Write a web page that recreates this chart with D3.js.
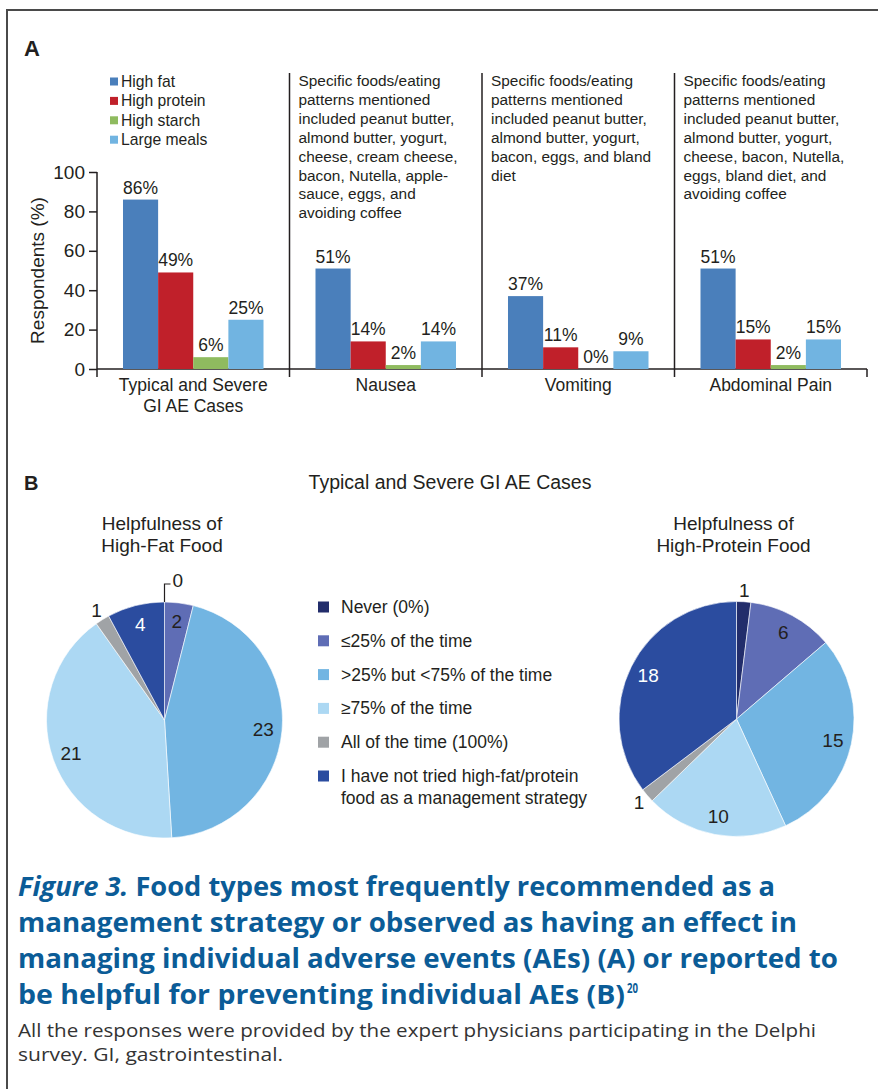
<!DOCTYPE html>
<html>
<head>
<meta charset="utf-8">
<script src="https://cdn.jsdelivr.net/npm/d3@7"></script>
<style>
  body { margin: 0; background: #fff; }
  text { font-family: "Liberation Sans", Arial, sans-serif; fill: #231f20; }
</style>
</head>
<body>
<svg id="fig" width="878" height="1089"></svg>
<script>
// ---- panel A data ----
const categories = ["Typical and Severe GI AE Cases", "Nausea", "Vomiting", "Abdominal Pain"];
const categoryLines = [["Typical and Severe", "GI AE Cases"], ["Nausea"], ["Vomiting"], ["Abdominal Pain"]];
const seriesNames = ["High fat", "High protein", "High starch", "Large meals"];
const seriesColors = ["#4a7fbb", "#c0202a", "#8fbb5f", "#71b4e1"];
const highFat = [86, 51, 37, 51];
const highProtein = [49, 14, 11, 15];
const highStarch = [6, 2, 0, 2];
const largeMeals = [25, 14, 9, 15];
const yTicks = [0, 20, 40, 60, 80, 100];
const notes = [
    [],
    ["Specific foods/eating", "patterns mentioned", "included peanut butter,", "almond butter, yogurt,",
     "cheese, cream cheese,", "bacon, Nutella, apple-", "sauce, eggs, and", "avoiding coffee"],
    ["Specific foods/eating", "patterns mentioned", "included peanut butter,", "almond butter, yogurt,",
     "bacon, eggs, and bland", "diet"],
    ["Specific foods/eating", "patterns mentioned", "included peanut butter,", "almond butter, yogurt,",
     "cheese, bacon, Nutella,", "eggs, bland diet, and", "avoiding coffee"]
];

// ---- panel B data ----
const helpCategories = ["Never (0%)", "\u226425% of the time", ">25% but <75% of the time",
    "\u226575% of the time", "All of the time (100%)",
    "I have not tried high-fat/protein|food as a management strategy"];
const helpColors = ["#222d6b", "#5f6db5", "#72b5e2", "#acd8f3", "#a0a3a6", "#2b4c9f"];
const highFatHelp = [0, 2, 23, 21, 1, 4];
const highProteinHelp = [1, 6, 15, 10, 1, 18];

// ---- caption ----
const captionLines = ["Food types most frequently recommended as a",
    "management strategy or observed as having an effect in",
    "managing individual adverse events (AEs) (A) or reported to",
    "be helpful for preventing individual AEs (B)"];
const noteLines = ["All the responses were provided by the expert physicians participating in the Delphi",
    "survey. GI, gastrointestinal."];

const svg = d3.select("#fig");

// frame
svg.append("path")
    .attr("d", "M7,1089 L7,10 L878,10")
    .attr("fill", "none")
    .attr("stroke", "#4a4a4a")
    .attr("stroke-width", 2);

// ================= PANEL A =================
svg.append("text").attr("x", 24).attr("y", 56)
    .style("font-size", "22px").style("font-weight", "bold").text("A");

let table = categories.map(function (c, i) {
    return {cat: c, values: [highFat[i], highProtein[i], highStarch[i], largeMeals[i]]};
});

let x0 = d3.scaleBand().domain(categories).range([97, 867]);
let x1 = d3.scaleBand().domain(seriesNames).range([0, x0.bandwidth()]).paddingOuter(0.74);
let y = d3.scaleLinear().domain([0, 100]).range([369, 172]);

// y axis
let yAxis = svg.append("g")
    .attr("transform", "translate(97,0)")
    .call(d3.axisLeft(y).tickValues(yTicks).tickSize(8).tickPadding(4).tickSizeOuter(0));
yAxis.select(".domain").remove();
yAxis.selectAll("line").attr("stroke", "#231f20").attr("stroke-width", 1.5);
yAxis.selectAll("text").style("font-size", "19px").style("font-family", "Liberation Sans, Arial, sans-serif").attr("fill", "#231f20");
svg.append("line").attr("x1", 97).attr("x2", 97).attr("y1", y(100)).attr("y2", 377)
    .attr("stroke", "#231f20").attr("stroke-width", 1.5);

svg.append("text")
    .attr("transform", "translate(44," + ((y(0) + y(100)) / 2) + ") rotate(-90)")
    .attr("text-anchor", "middle")
    .style("font-size", "19px")
    .text("Respondents (%)");

// x axis baseline and group boundaries
svg.append("line").attr("x1", 97).attr("x2", 867).attr("y1", y(0)).attr("y2", y(0))
    .attr("stroke", "#231f20").attr("stroke-width", 1.5);
let bounds = categories.map(function (c) { return x0(c) + x0.bandwidth(); });
svg.selectAll("line.divider")
    .data(bounds)
    .enter()
    .append("line")
    .attr("class", "divider")
    .attr("x1", function (d) { return d; })
    .attr("x2", function (d) { return d; })
    .attr("y1", function (d, i) { return i < 3 ? 73 : y(0); })
    .attr("y2", 377)
    .attr("stroke", "#231f20")
    .attr("stroke-width", 1.5);

// bars
let groups = svg.selectAll("g.group")
    .data(table)
    .enter()
    .append("g")
    .attr("class", "group")
    .attr("transform", function (d) { return "translate(" + x0(d.cat) + ",0)"; });

groups.selectAll("rect")
    .data(function (d) { return d.values.map(function (v, k) { return {name: seriesNames[k], v: v, k: k}; }); })
    .enter()
    .append("rect")
    .attr("x", function (d) { return x1(d.name); })
    .attr("width", x1.bandwidth())
    .attr("y", function (d) { return y(d.v); })
    .attr("height", function (d) { return y(0) - y(d.v); })
    .attr("fill", function (d) { return seriesColors[d.k]; });

groups.selectAll("text.val")
    .data(function (d) { return d.values.map(function (v, k) { return {name: seriesNames[k], v: v}; }); })
    .enter()
    .append("text")
    .attr("class", "val")
    .attr("x", function (d) { return x1(d.name) + x1.bandwidth() / 2; })
    .attr("y", function (d) { return y(d.v) - 6; })
    .attr("text-anchor", "middle")
    .style("font-size", "17.5px")
    .text(function (d) { return d.v + "%"; });

// category labels + notes
groups.each(function (d, i) {
    let g = d3.select(this);
    categoryLines[i].forEach(function (line, j) {
        g.append("text")
            .attr("x", x0.bandwidth() / 2)
            .attr("y", 391 + j * 20.5)
            .attr("text-anchor", "middle")
            .style("font-size", "17.5px")
            .text(line);
    });
    notes[i].forEach(function (line, j) {
        g.append("text")
            .attr("x", 9)
            .attr("y", 86 + j * 18.9)
            .style("font-size", "15.4px")
            .text(line);
    });
});

// legend A
let legA = svg.append("g").attr("transform", "translate(110,77.5)");
seriesNames.forEach(function (name, i) {
    legA.append("rect").attr("x", 0).attr("y", i * 19.4).attr("width", 8).attr("height", 8)
        .attr("fill", seriesColors[i]);
    legA.append("text").attr("x", 11).attr("y", i * 19.4 + 9.5)
        .style("font-size", "15.7px").text(name);
});

// ================= PANEL B =================
svg.append("text").attr("x", 24).attr("y", 490)
    .style("font-size", "20px").style("font-weight", "bold").text("B");
svg.append("text").attr("x", 450).attr("y", 489).attr("text-anchor", "middle")
    .style("font-size", "19.5px").text("Typical and Severe GI AE Cases");

function drawPie(cx, cy, r, values, titleLines, titleX) {
    titleLines.forEach(function (t, j) {
        svg.append("text").attr("x", titleX).attr("y", 530 + j * 22)
            .attr("text-anchor", "middle").style("font-size", "19px").text(t);
    });

    let pie = d3.pie().sort(null).value(function (d) { return d; });
    let arcs = pie(values);
    let arc = d3.arc().innerRadius(0).outerRadius(r);
    let g = svg.append("g").attr("transform", "translate(" + cx + "," + cy + ")");

    g.selectAll("path")
        .data(arcs)
        .enter()
        .append("path")
        .attr("d", arc)
        .attr("fill", function (d, i) { return helpColors[i]; })
        .attr("stroke", "#fff")
        .attr("stroke-width", 0.6);

    arcs.forEach(function (a, i) {
        let mid = (a.startAngle + a.endAngle) / 2;
        if (a.data === 0) {
            // leader for the empty slice
            g.append("path")
                .attr("d", "M0," + (-r) + " V" + (-r - 18) + " H6")
                .attr("fill", "none").attr("stroke", "#231f20").attr("stroke-width", 1.2);
            g.append("text").attr("x", 8).attr("y", -r - 15)
                .style("font-size", "19px").text(a.data);
            return;
        }
        let rr = a.data <= 1 ? r + 11 : r * 0.84;
        let lx = Math.sin(mid) * rr;
        let ly = -Math.cos(mid) * rr;
        g.append("text")
            .attr("x", lx).attr("y", ly)
            .attr("dy", "0.35em")
            .attr("text-anchor", "middle")
            .style("font-size", "19px")
            .style("fill", (i === 5) ? "#fff" : "#231f20")
            .text(a.data);
    });
}

drawPie(164.5, 720, 118, highFatHelp, ["Helpfulness of", "High-Fat Food"], 162);
drawPie(736.5, 719, 117.5, highProteinHelp, ["Helpfulness of", "High-Protein Food"], 733.5);

// legend B
let legB = svg.append("g").attr("transform", "translate(318,0)");
helpCategories.forEach(function (name, i) {
    let cy = 607 + i * 33.8;
    legB.append("rect").attr("x", 0).attr("y", cy - 5.5).attr("width", 11).attr("height", 11)
        .attr("fill", helpColors[i]);
    name.split("|").forEach(function (line, j) {
        legB.append("text").attr("x", 23).attr("y", cy + 6 + j * 22)
            .style("font-size", "17.5px").text(line);
    });
});

// ================= CAPTION =================
let capColor = "#0b5c97";
let capWidths = [757, 779, 820, 607];
captionLines.forEach(function (line, i) {
    let t = svg.append("text")
        .attr("x", 18).attr("y", 896 + i * 36)
        .style("font-family", "'Open Sans', 'DejaVu Sans', sans-serif")
        .style("font-size", "26px")
        .style("font-weight", "bold")
        .style("fill", capColor)
        .attr("textLength", capWidths[i])
        .attr("lengthAdjust", "spacingAndGlyphs");
    if (i === 0) {
        t.append("tspan").style("font-style", "italic").style("fill", capColor).text("Figure 3.");
        t.append("tspan").style("fill", capColor).text(" " + line);
    } else {
        t.text(line);
    }
});
svg.append("text")
    .attr("x", 627).attr("y", 993)
    .style("font-family", "'Open Sans', 'DejaVu Sans', sans-serif")
    .style("font-size", "15px").style("font-weight", "bold")
    .style("fill", capColor)
    .attr("textLength", 11).attr("lengthAdjust", "spacingAndGlyphs")
    .text("20");

let noteWidths = [798, 265];
noteLines.forEach(function (line, i) {
    svg.append("text")
        .attr("x", 18).attr("y", 1037 + i * 24)
        .style("font-family", "'Open Sans', 'DejaVu Sans', sans-serif")
        .style("font-size", "19px")
        .style("fill", "#333")
        .attr("textLength", noteWidths[i])
        .attr("lengthAdjust", "spacingAndGlyphs")
        .text(line);
});
</script>
</body>
</html>
